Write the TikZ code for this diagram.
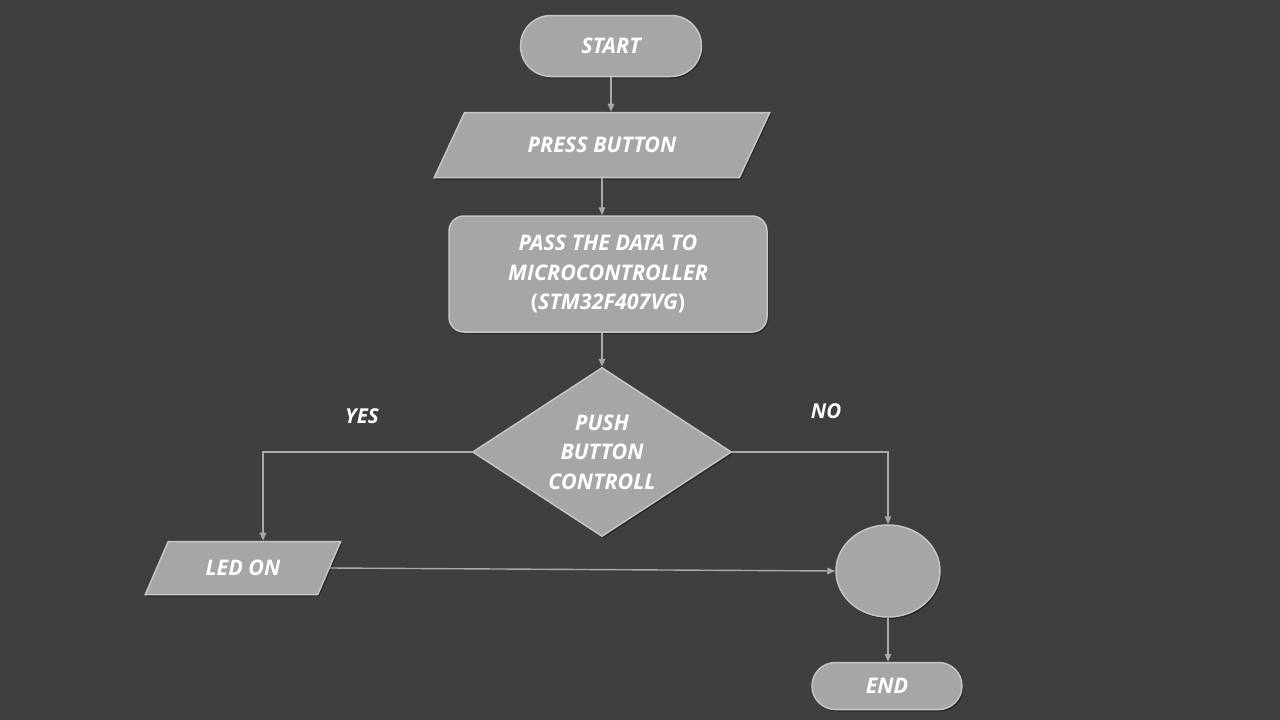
\documentclass[tikz,border=0pt]{standalone}
\usepackage{fontspec}
\setmainfont{Open Sans}
\usetikzlibrary{shapes.geometric,shapes.misc,arrows.meta,shadows}
\definecolor{bgc}{HTML}{3F3F3F}
\definecolor{boxfill}{HTML}{A6A6A6}
\definecolor{boxedge}{HTML}{C6C6C6}
\definecolor{connc}{HTML}{A9A9A9}
\begin{document}
\begin{tikzpicture}[x=1pt,y=-1pt,
  base/.style={fill=boxfill, draw=boxedge, line width=1.5pt, text=white,
    font=\bfseries\itshape\fontsize{21.5}{29.5}\selectfont, align=center, inner sep=0pt,
    drop shadow={shadow xshift=1.5pt, shadow yshift=-2pt, fill=black, opacity=0.35}},
  term/.style={base, rounded rectangle},
  para/.style={base, trapezium, trapezium stretches=true},
  proc/.style={base, rectangle, rounded corners=15pt},
  dec/.style={base, diamond, shape aspect=1.53},
  conn/.style={base, ellipse},
  lbl/.style={text=white, font=\bfseries\itshape\fontsize{20.5}{24}\selectfont, inner sep=0pt},
  arr/.style={draw=connc, line width=1.4pt, -{Triangle[length=8pt,width=6.5pt]}},
]
\useasboundingbox (0,0) rectangle (1280,720);
\fill[bgc] (0,0) rectangle (1280,720);

\node[term, minimum width=181pt, minimum height=61pt] (start) at (611,46) {START};
\node[para, trapezium left angle=44, trapezium right angle=136, minimum width=336pt, minimum height=65pt] (press) at (602,145) {PRESS BUTTON};
\node[proc, minimum width=318pt, minimum height=116pt] (pass) at (608,274) {PASS THE DATA TO\\MICROCONTROLLER\\{\upshape(}STM32F407VG{\upshape)}};
\node[dec, minimum width=259pt, minimum height=169pt] (decide) at (602,452) {PUSH\\BUTTON\\CONTROLL};
\node[para, trapezium left angle=54, trapezium right angle=126, minimum width=196pt, minimum height=53pt] (led) at (243,568) {LED ON};
\node[conn, minimum width=104pt, minimum height=92pt] (join) at (888,571) {};
\node[term, minimum width=150pt, minimum height=47pt] (stop) at (887,686) {END};

\node[lbl] (yes) at (362,416) {YES};
\node[lbl] (no) at (826,411) {NO};

\coordinate (ledin) at ([xshift=20pt]led.north);
\draw[arr] (start.south) -- (start.south |- press.north);
\draw[arr] (press.south) -- (press.south |- pass.north);
\draw[arr] (decide.north |- pass.south) -- (decide.north);
\draw[arr] (decide.west) -| (ledin);
\draw[arr] (decide.east) -| (join.north);
\draw[arr] (led.east) -- (join.west);
\draw[arr] (join.south) -- (join.south |- stop.north);
\end{tikzpicture}
\end{document}
